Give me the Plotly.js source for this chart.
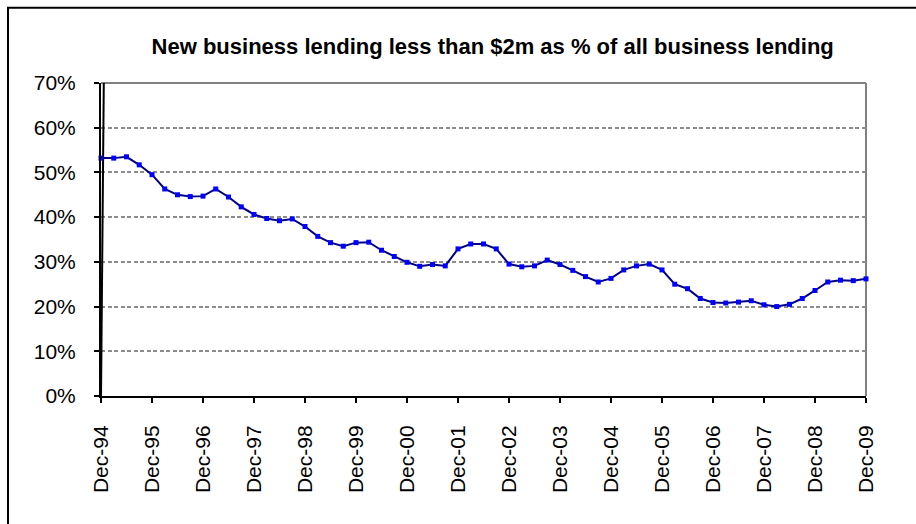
<!DOCTYPE html>
<html>
<head>
<meta charset="utf-8">
<script src="https://cdn.plot.ly/plotly-3.0.1.min.js"></script>
<style>html,body{margin:0;padding:0;background:#fff;}#chart{width:916px;height:524px;}</style>
</head>
<body>
<div id="chart"></div>
<script>
const title = "New business lending less than $2m as % of all business lending";
const tickLabels = ["Dec-94","Dec-95","Dec-96","Dec-97","Dec-98","Dec-99","Dec-00","Dec-01","Dec-02","Dec-03","Dec-04","Dec-05","Dec-06","Dec-07","Dec-08","Dec-09"];
// quarterly share (%), Dec-94 .. Dec-09
const shareValues = [
  53.2, 53.2, 53.5, 51.7, 49.5, 46.3, 45.0, 44.6, 44.7, 46.3,
  44.5, 42.3, 40.6, 39.7, 39.2, 39.6, 37.9, 35.7, 34.3, 33.5,
  34.3, 34.4, 32.6, 31.2, 29.9, 29.0, 29.4, 29.1, 32.9, 34.0,
  34.0, 32.9, 29.5, 28.9, 29.1, 30.4, 29.4, 28.1, 26.7, 25.5,
  26.3, 28.2, 29.1, 29.5, 28.2, 25.0, 24.0, 21.8, 20.9, 20.8,
  21.0, 21.3, 20.4, 20.0, 20.5, 21.8, 23.6, 25.5, 25.9, 25.8, 26.2
];
// secondary black series (runs off the top of the chart)
const spikeValues = [0, 320];

const quarters = shareValues.map((_, i) => i);
const tickPositions = tickLabels.map((_, i) => i * 4);

const FONT = "Liberation Sans, Arial, sans-serif";

const traces = [
  {
    x: [0, 1],
    y: spikeValues.map(v => v / 100),
    type: "scatter",
    mode: "lines",
    line: {color: "#000000", width: 2},
    hoverinfo: "skip"
  },
  {
    x: quarters,
    y: shareValues.map(v => v / 100),
    type: "scatter",
    mode: "lines+markers",
    line: {color: "#000080", width: 2},
    marker: {symbol: "square", size: 5, color: "#0000FF"},
    cliponaxis: false
  }
];

const layout = {
  width: 916,
  height: 524,
  margin: {l: 101, r: 50, t: 83, b: 128},
  paper_bgcolor: "#ffffff",
  plot_bgcolor: "#ffffff",
  showlegend: false,
  font: {family: FONT, color: "#000000"},
  title: {
    text: "<b>" + title + "</b>",
    font: {family: FONT, size: 22, color: "#000000"},
    xref: "paper", x: 0.512, xanchor: "center",
    yref: "container", y: 0.911, yanchor: "middle"
  },
  xaxis: {
    range: [0, 60],
    tickmode: "array",
    tickvals: tickPositions,
    ticktext: tickLabels,
    tickangle: -90,
    ticks: "outside",
    ticklen: 5,
    tickwidth: 2,
    tickcolor: "#000000",
    ticklabelstandoff: 14,
    tickfont: {family: FONT, size: 21, color: "#000000"},
    showgrid: false,
    zeroline: false,
    showline: true,
    linecolor: "#000000",
    linewidth: 2,
    fixedrange: true
  },
  yaxis: {
    range: [0, 0.7],
    tickmode: "linear",
    tick0: 0,
    dtick: 0.1,
    tickformat: ".0%",
    ticks: "outside",
    ticklen: 5,
    tickwidth: 2,
    tickcolor: "#000000",
    ticklabelstandoff: 14,
    tickfont: {family: FONT, size: 21, color: "#000000"},
    showgrid: true,
    gridcolor: "#8c8c8c",
    gridwidth: 2,
    griddash: "4px,2.5px",
    zeroline: false,
    showline: true,
    linecolor: "#000000",
    linewidth: 2,
    fixedrange: true
  },
  shapes: [
    {
      type: "line", xref: "paper", yref: "paper",
      x0: 0, x1: 1, y0: 1, y1: 1,
      line: {color: "#808080", width: 2}, layer: "below"
    },
    {
      type: "line", xref: "paper", yref: "paper",
      x0: 1, x1: 1, y0: 0, y1: 1,
      line: {color: "#808080", width: 2}, layer: "below"
    },
    {
      type: "rect", xref: "paper", yref: "paper",
      x0: (8 - 101) / 765, x1: (940 - 101) / 765,
      y0: (396 - 560) / 313, y1: (396 - 7.7) / 313,
      line: {color: "#000000", width: 2},
      fillcolor: "rgba(0,0,0,0)", layer: "below"
    }
  ]
};

Plotly.newPlot("chart", traces, layout, {displayModeBar: false, staticPlot: true});
</script>
</body>
</html>
